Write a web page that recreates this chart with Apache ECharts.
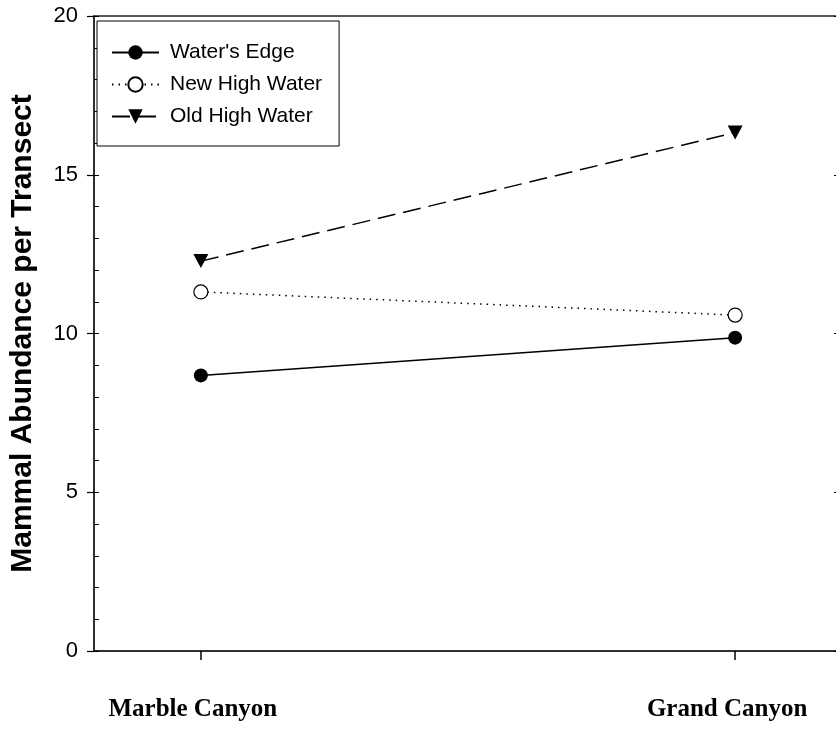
<!DOCTYPE html>
<html>
<head>
<meta charset="utf-8">
<script src="https://cdn.jsdelivr.net/npm/echarts@6/dist/echarts.min.js"></script>
<style>html,body{margin:0;padding:0;background:#fff}#c{width:836px;height:733px}</style>
</head>
<body>
<div id="c"></div>
<script>
const categories = ["Marble Canyon", "Grand Canyon"];
const watersEdge = [8.68, 9.87];
const newHighWater = [11.31, 10.58];
const oldHighWater = [12.28, 16.33];
const yTicks = [0, 5, 10, 15, 20];

const toPts = vals => vals.map((v, i) => [i + 1, v]);
const catPos = categories.map((c, i) => i + 1);

const chart = echarts.init(document.getElementById('c'), null, {renderer: 'canvas'});
chart.setOption({
  animation: false,
  backgroundColor: '#fff',
  grid: {left: 94, top: 16, width: 748, height: 635, outerBoundsMode: 'none', containLabel: false,
         show: true, borderColor: '#222', borderWidth: 1.5, backgroundColor: 'transparent'},
  legend: {
    orient: 'vertical', left: 97, top: 21,
    backgroundColor: '#fff', borderColor: '#000', borderWidth: 1,
    padding: [21, 17, 19, 14],
    itemWidth: 47, itemHeight: 18, itemGap: 11,
    textStyle: {fontFamily: 'Liberation Sans', fontSize: 21, color: '#000', padding: [0, 0, 0, 6]},
    data: ["Water's Edge", 'New High Water', 'Old High Water']
  },
  xAxis: {
    type: 'value', min: 0.8, max: 2.2,
    axisLine: {show: true, lineStyle: {color: '#222', width: 1.5}},
    axisTick: {show: true, customValues: catPos, length: 9, lineStyle: {color: '#000', width: 1.5}},
    axisLabel: {customValues: catPos, formatter: v => categories[Math.round(v) - 1], fontFamily: 'Liberation Serif', fontWeight: 'bold', fontSize: 25, color: '#000', margin: 46, padding: [0, 16, 0, 0]},
    splitLine: {show: false}
  },
  yAxis: [
    {
      type: 'value', min: 0, max: 20, interval: 5, position: 'left',
      axisLine: {show: true, lineStyle: {color: '#222', width: 1.5}},
      axisTick: {show: true, inside: false, length: 7, lineStyle: {color: '#000', width: 1.2}},
      axisLabel: {fontFamily: 'Liberation Sans', fontSize: 22, color: '#000', margin: 16, formatter: v => yTicks.includes(v) ? String(v) : ''},
      splitLine: {show: false},
      name: 'Mammal Abundance per Transect', nameLocation: 'middle', nameGap: 56,
      nameTextStyle: {fontFamily: 'Liberation Sans', fontWeight: 'bold', fontSize: 30, color: '#000'}
    },
    {
      type: 'value', min: 0, max: 20, interval: 1, position: 'left',
      axisLine: {show: false},
      axisTick: {show: true, inside: true, length: 5, lineStyle: {color: '#000', width: 1}},
      axisLabel: {show: false}, splitLine: {show: false}
    },
    {
      type: 'value', min: 0, max: 20, interval: 5, position: 'right',
      axisLine: {show: true, lineStyle: {color: '#222', width: 1.5}},
      axisTick: {show: true, inside: true, length: 8, lineStyle: {color: '#000', width: 1}},
      axisLabel: {show: false}, splitLine: {show: false}
    }
  ],
  series: [
    {
      name: "Water's Edge", type: 'line', data: toPts(watersEdge),
      symbol: 'circle', symbolSize: 14,
      itemStyle: {color: '#000'},
      lineStyle: {color: '#000', width: 1.5, type: 'solid'}
    },
    {
      name: 'New High Water', type: 'line', data: toPts(newHighWater),
      symbol: 'circle', symbolSize: 14,
      itemStyle: {color: '#fff', borderColor: '#000', borderWidth: 1.2},
      lineStyle: {color: '#000', width: 1.5, type: [1.5, 5]}
    },
    {
      name: 'Old High Water', type: 'line', data: toPts(oldHighWater),
      symbol: 'triangle', symbolSize: [15, 14], symbolRotate: 180,
      itemStyle: {color: '#000'},
      lineStyle: {color: '#000', width: 1.5, type: [18, 8]}
    }
  ]
});
</script>
</body>
</html>
